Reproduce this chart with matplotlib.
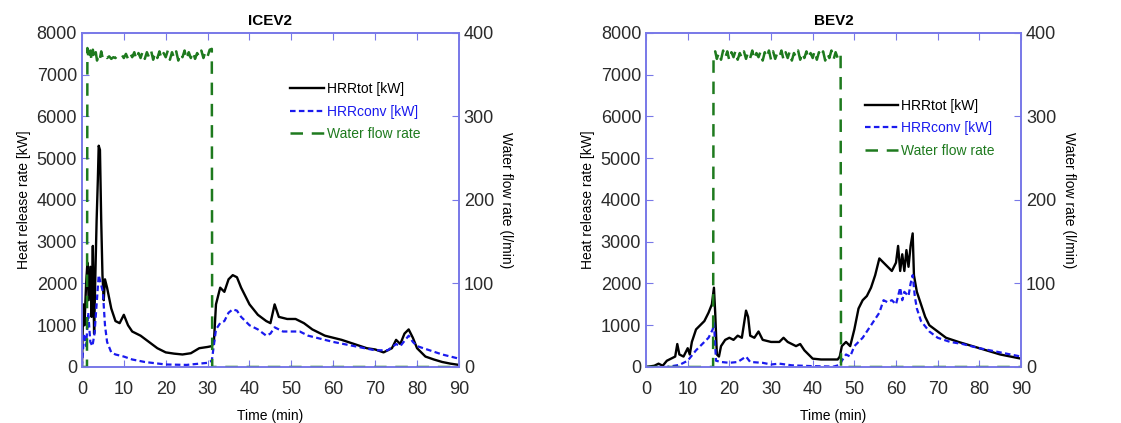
import matplotlib.pyplot as plt

plt.rcParams['font.family'] = ['Liberation Sans', 'DejaVu Sans']

# ICEV2 - heat release rates
t_ice_tot = [0, 0.3, 0.6, 1.0, 1.3, 1.6, 2.0, 2.3, 2.6, 2.9, 3.2, 3.5, 3.8, 4.0, 4.3, 4.6, 4.9, 5.2, 5.5,
             6.0, 7, 8, 9, 10, 11, 12, 14, 16, 18, 20, 22, 24, 26, 28, 30, 31, 31.5, 32, 33, 34, 35, 36,
             37, 38, 40, 42, 44, 45, 46, 47, 49, 51, 53, 55, 58, 60, 62, 65, 68, 70, 72, 74, 75, 76, 77,
             78, 79, 80, 82, 84, 86, 88, 90]
hrr_ice_tot = [0, 1500, 1000, 2000, 2500, 1600, 2400, 1200, 2900, 800, 2200, 3500, 4500, 5300, 5200, 3500,
               2200, 1600, 2100, 1900, 1400, 1100, 1050, 1250, 1000, 850, 750, 600, 450, 350, 320, 300, 330,
               450, 480, 500, 600, 1500, 1900, 1800, 2100, 2200, 2150, 1900, 1500, 1250, 1100, 1050, 1500,
               1200, 1150, 1150, 1050, 900, 750, 700, 650, 550, 450, 420, 350, 450, 650, 550, 800, 900, 700,
               450, 250, 180, 120, 80, 50]
t_ice_conv = [0, 0.5, 1.0, 1.5, 2.0, 2.5, 3.0, 3.5, 4.0, 4.5, 5.0, 5.5, 6.0, 7, 8, 10, 12, 15, 20, 25, 30,
              31, 32, 33, 34, 35, 36, 37, 38, 40, 42, 44, 45, 46, 48, 50, 52, 54, 56, 60, 65, 70, 73, 75,
              76, 78, 79, 80, 83, 86, 90]
hrr_ice_conv = [0, 800, 500, 1300, 600, 500, 800, 1500, 2200, 2000, 1800, 1000, 600, 350, 300, 250, 180,
                120, 60, 50, 100, 150, 900, 1050, 1100, 1300, 1380, 1350, 1200, 1000, 900, 750, 800, 950,
                850, 850, 850, 750, 700, 600, 500, 400, 400, 550, 500, 750, 600, 500, 400, 300, 200]
t_ice_water = [0, 1.2, 1.3, 1.6, 2.0, 2.3, 2.6, 3.0, 3.3, 3.6, 4.0, 4.3, 4.6, 5.0, 5.5, 6.0, 6.5, 7.0,
               7.5, 8.0, 8.5, 9.0, 9.5, 10.0, 10.5, 11.0, 11.5, 12.0, 12.5, 13.0, 13.5, 14.0, 14.5, 15.0,
               15.5, 16.0, 16.5, 17.0, 17.5, 18.0, 18.5, 19.0, 19.5, 20.0, 20.5, 21.0, 21.5, 22.0, 22.5,
               23.0, 23.5, 24.0, 24.5, 25.0, 25.5, 26.0, 26.5, 27.0, 27.5, 28.0, 28.5, 29.0, 29.5, 30.0,
               30.5, 31.0, 31.1, 90]
water_ice = [0, 0, 382, 368, 379, 366, 380, 369, 377, 367, 375, 370, 378, 369, 373, 370, 372, 369, 371,
             370, 373, 371, 374, 370, 375, 369, 376, 371, 377, 368, 376, 370, 378, 369, 377, 371, 379, 368,
             377, 370, 378, 369, 376, 371, 379, 368, 377, 370, 378, 367, 376, 371, 379, 368, 377, 370, 378,
             369, 376, 371, 379, 370, 378, 372, 380, 381, 0, 0]

# BEV2
t_bev_tot = [0, 2, 3, 4, 5, 6, 7, 7.5, 8, 9, 10, 10.5, 11, 12, 13, 14, 15, 15.8, 16.3, 16.6, 17, 17.5,
             18, 19, 20, 21, 22, 23, 24, 24.5, 25, 26, 27, 28, 30, 32, 33, 34, 36, 37, 38, 40, 42, 44,
             46, 46.5, 47, 48, 49, 50, 51, 52, 53, 54, 55, 56, 57, 58, 59, 60, 60.5, 61, 61.5, 62, 62.5,
             63, 63.5, 64, 64.3, 65, 66, 67, 68, 70, 72, 75, 80, 85, 90]
hrr_bev_tot = [0, 30, 80, 30, 150, 200, 250, 550, 300, 250, 450, 300, 600, 900, 1000, 1100, 1300, 1500,
               1900, 1300, 300, 250, 500, 650, 700, 650, 750, 700, 1350, 1200, 750, 700, 850, 650, 600,
               600, 700, 600, 500, 550, 400, 200, 180, 180, 180, 250, 500, 600, 500, 900, 1400, 1600, 1700,
               1900, 2200, 2600, 2500, 2400, 2300, 2500, 2900, 2300, 2700, 2300, 2800, 2400, 2900, 3200,
               2200, 1800, 1500, 1200, 1000, 850, 700, 600, 450, 300, 200]
t_bev_conv = [0, 5, 8, 10, 12, 14, 15, 16, 16.3, 16.8, 18, 20, 22, 24, 25, 28, 30, 32, 35, 40, 45, 46.5,
              47, 48, 49, 50, 52, 54, 56, 57, 58, 59, 60, 61, 61.5, 62, 63, 63.5, 64, 64.5, 65, 66, 68,
              70, 73, 76, 80, 85, 90]
hrr_bev_conv = [0, 0, 50, 150, 400, 600, 700, 900, 1050, 150, 120, 100, 120, 250, 120, 100, 60, 80, 40,
                20, 10, 50, 150, 300, 250, 500, 700, 1000, 1300, 1600, 1550, 1600, 1500, 1900, 1600, 1800,
                1700, 2000, 2200, 1700, 1400, 1100, 850, 700, 600, 550, 450, 350, 250]
t_bev_water = [0, 16.1, 16.2, 16.6, 17.0, 17.5, 18.0, 18.5, 19.0, 19.5, 20.0, 20.5, 21.0, 21.5, 22.0,
               22.5, 23.0, 23.5, 24.0, 24.5, 25.0, 25.5, 26.0, 26.5, 27.0, 27.5, 28.0, 28.5, 29.0, 29.5,
               30.0, 30.5, 31.0, 31.5, 32.0, 32.5, 33.0, 33.5, 34.0, 34.5, 35.0, 35.5, 36.0, 36.5, 37.0,
               37.5, 38.0, 38.5, 39.0, 39.5, 40.0, 40.5, 41.0, 41.5, 42.0, 42.5, 43.0, 43.5, 44.0, 44.5,
               45.0, 45.5, 46.0, 46.5, 46.7, 46.8, 90]
water_bev = [0, 0, 372, 378, 369, 377, 368, 379, 370, 378, 367, 377, 371, 379, 368, 376, 370, 378, 369,
             377, 370, 379, 368, 376, 371, 378, 367, 377, 370, 379, 368, 378, 369, 376, 371, 379, 368, 377,
             370, 378, 367, 376, 371, 379, 368, 377, 370, 378, 369, 376, 370, 379, 368, 377, 371, 378, 367,
             376, 370, 379, 368, 377, 370, 376, 374, 0, 0]

edge = '#7878e8'


def panel(rect, title, tt, tot, tc, conv, tw, water, leg_anchor):
    ax = fig.add_axes(rect)
    ax2 = ax.twinx()
    l1, = ax.plot(tt, tot, color='black', lw=1.7, label='HRRtot [kW]')
    l2, = ax.plot(tc, conv, color='#1a1aee', lw=1.6, dashes=(2.5, 1.5), label='HRRconv [kW]')
    l3, = ax2.plot(tw, water, color='#1e7a1e', lw=1.8, dashes=(5, 3.5), label='Water flow rate')
    ax.set_xlim(0, 90)
    ax.set_ylim(0, 8000)
    ax2.set_ylim(0, 400)
    ax.set_xticks(range(0, 91, 10))
    ax.set_yticks(range(0, 8001, 1000))
    ax2.set_yticks(range(0, 401, 100))
    ax.tick_params(direction='in', top=True, length=5, color=edge, labelsize=13, labelcolor='#2a2a2a')
    ax.tick_params(axis='x', pad=10)
    ax2.tick_params(direction='in', length=5, color=edge, labelsize=13, labelcolor='#2a2a2a')
    for a in (ax, ax2):
        for s in a.spines.values():
            s.set_color(edge)
            s.set_linewidth(1.2)
    ax.set_title(title, fontsize=11, fontweight='bold', pad=6)
    ax.set_xlabel('Time (min)', fontsize=10, labelpad=8)
    ax.set_ylabel('Heat release rate [kW]', fontsize=10, labelpad=4)
    ax2.set_ylabel('Water flow rate (l/min)', fontsize=10, rotation=270, labelpad=14)
    ax2.legend([l1, l2, l3], [l1.get_label(), l2.get_label(), l3.get_label()], loc='upper left',
               bbox_to_anchor=leg_anchor, frameon=False, fontsize=10, labelcolor='linecolor',
               handlelength=2.4, handletextpad=0.2, labelspacing=0.6)


fig = plt.figure(figsize=(11.21, 4.23), dpi=100)
panel([0.0731, 0.1324, 0.3363, 0.7896], 'ICEV2', t_ice_tot, hrr_ice_tot, t_ice_conv, hrr_ice_conv,
      t_ice_water, water_ice, (0.52, 0.89))
panel([0.5763, 0.1324, 0.3345, 0.7896], 'BEV2', t_bev_tot, hrr_bev_tot, t_bev_conv, hrr_bev_conv,
      t_bev_water, water_bev, (0.55, 0.84))
fig.savefig('out.png', dpi=100)
